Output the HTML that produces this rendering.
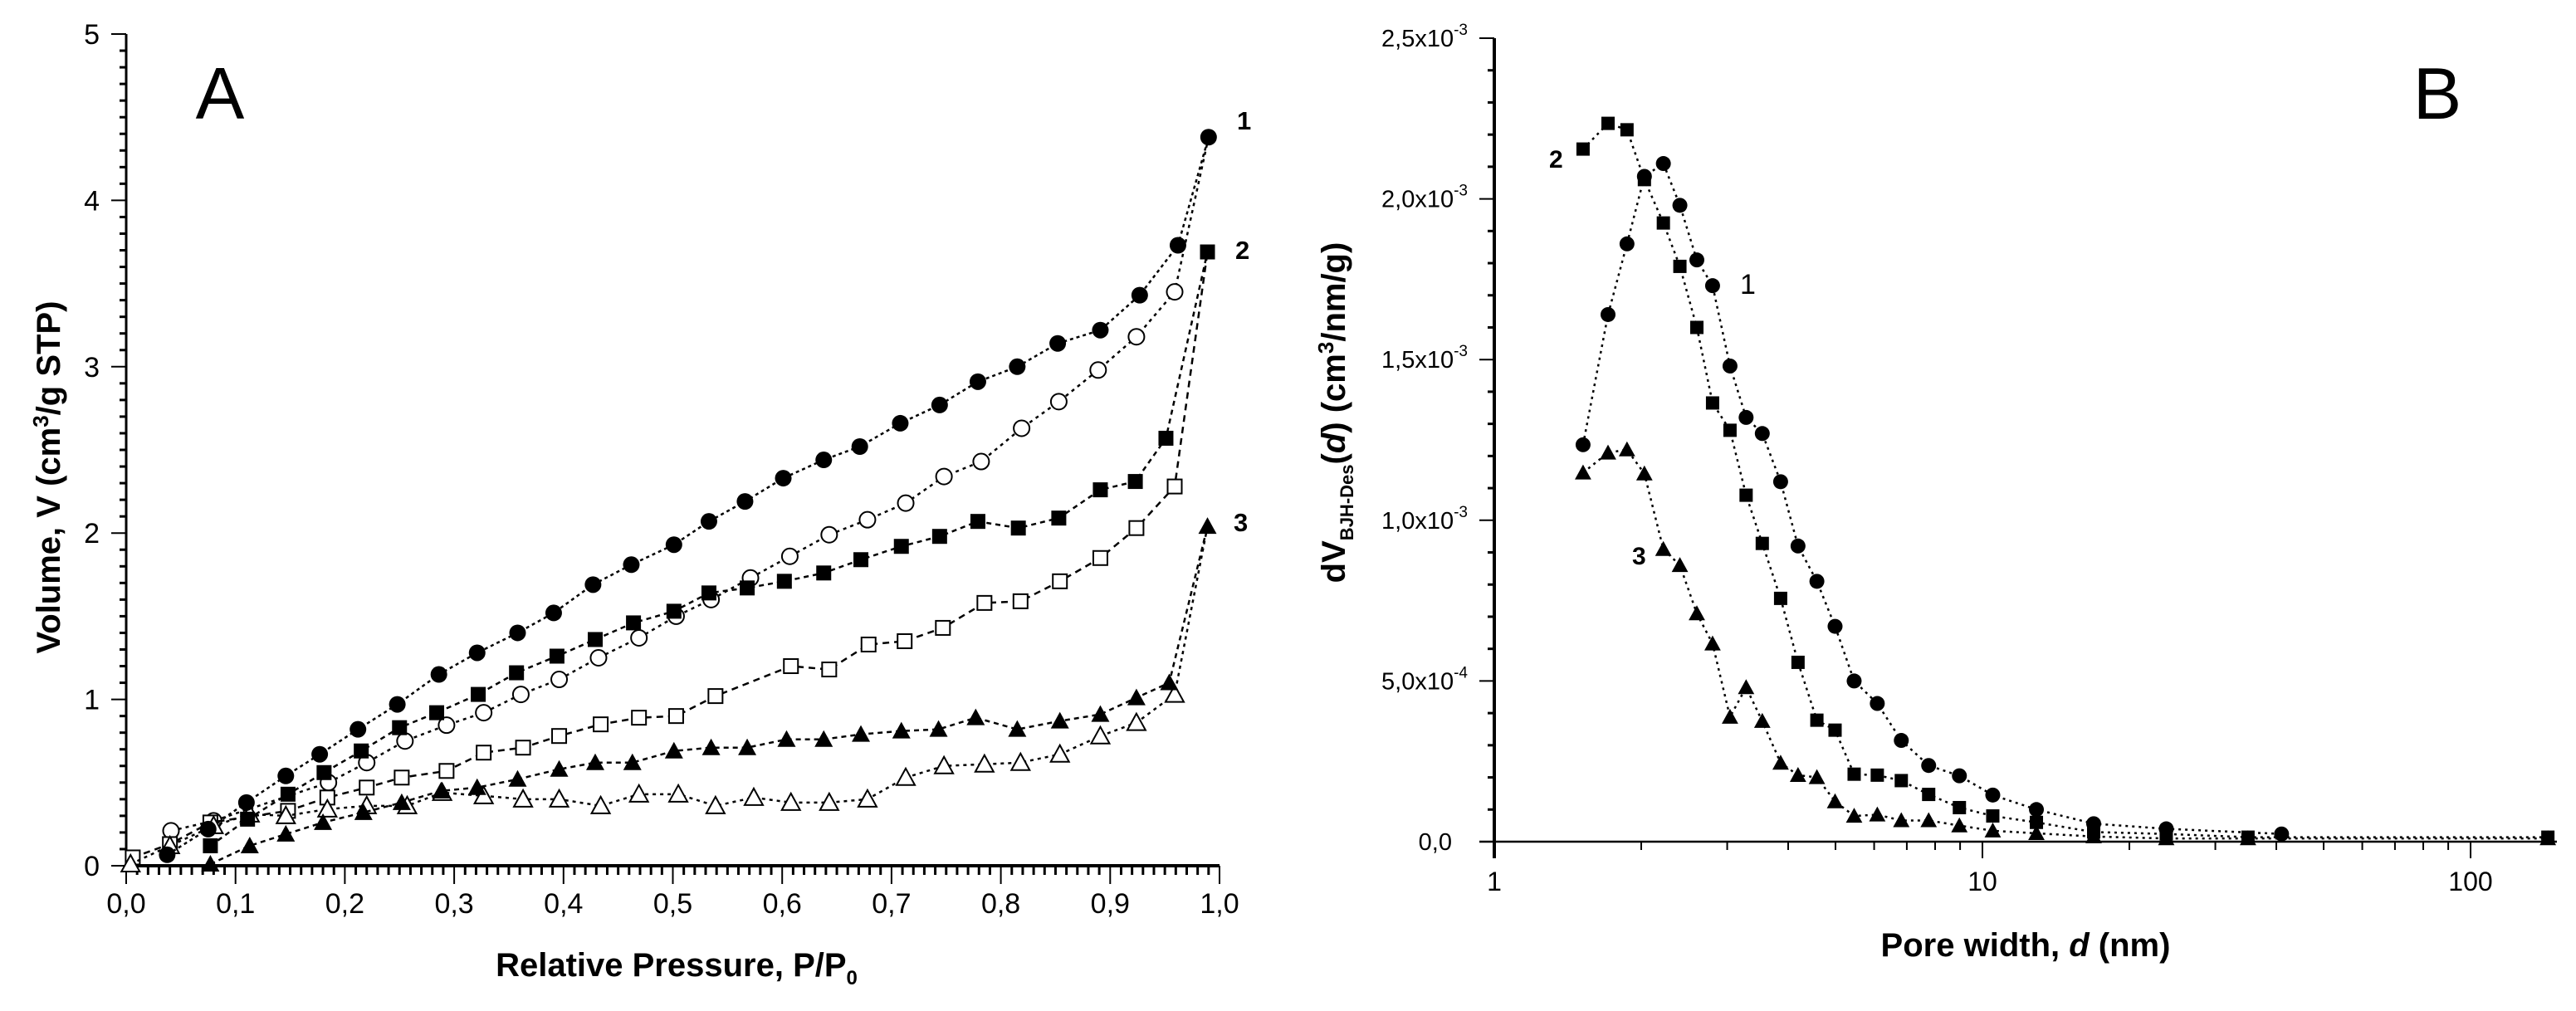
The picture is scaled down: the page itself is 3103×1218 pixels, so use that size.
<!DOCTYPE html>
<html><head><meta charset="utf-8"><title>Adsorption isotherms and BJH pore distribution</title>
<style>
html,body{margin:0;padding:0;background:#fff;}
svg{display:block;}
text{font-family:"Liberation Sans",Arial,sans-serif;fill:#000;}
</style></head>
<body>
<svg id="fig" xmlns="http://www.w3.org/2000/svg" width="3103" height="1218" viewBox="0 0 3103 1218"></svg>
<script>
// ---------- Panel A data (relative pressure vs volume) ----------
const xA1 = [0.0375,0.075,0.110,0.146,0.177,0.212,0.248,0.286,0.321,0.358,0.391,0.427,0.462,0.501,0.533,0.566,0.601,0.638,0.671,0.708,0.744,0.779,0.815,0.852,0.891,0.927,0.962,0.990];
const yA1 = [0.066,0.22,0.38,0.54,0.67,0.82,0.97,1.15,1.28,1.40,1.52,1.69,1.81,1.93,2.07,2.19,2.33,2.44,2.52,2.66,2.77,2.91,3.00,3.14,3.22,3.43,3.73,4.38];
const xA1d = [0.041,0.08,0.185,0.22,0.255,0.293,0.327,0.361,0.396,0.432,0.469,0.503,0.535,0.571,0.607,0.643,0.678,0.713,0.748,0.782,0.819,0.853,0.889,0.924,0.959];
const yA1d = [0.21,0.27,0.50,0.62,0.75,0.845,0.92,1.03,1.12,1.25,1.37,1.50,1.60,1.73,1.86,1.99,2.08,2.18,2.34,2.43,2.63,2.79,2.98,3.18,3.45];
const xA2 = [0.077,0.111,0.148,0.181,0.215,0.25,0.284,0.322,0.357,0.394,0.429,0.464,0.501,0.533,0.568,0.602,0.638,0.672,0.709,0.744,0.779,0.816,0.853,0.891,0.923,0.951,0.989];
const yA2 = [0.12,0.28,0.43,0.56,0.69,0.83,0.92,1.03,1.16,1.26,1.36,1.46,1.53,1.64,1.67,1.71,1.76,1.84,1.92,1.98,2.07,2.03,2.09,2.26,2.31,2.57,3.69];
const xA2d = [0.006,0.04,0.077,0.148,0.184,0.22,0.252,0.293,0.327,0.363,0.396,0.434,0.469,0.503,0.539,0.608,0.643,0.679,0.712,0.747,0.785,0.818,0.854,0.891,0.924,0.959];
const yA2d = [0.05,0.13,0.26,0.33,0.41,0.47,0.53,0.57,0.68,0.71,0.78,0.85,0.89,0.90,1.02,1.20,1.18,1.33,1.35,1.43,1.58,1.59,1.71,1.85,2.03,2.28];
const xA3 = [0.077,0.113,0.146,0.18,0.217,0.252,0.288,0.321,0.358,0.396,0.429,0.463,0.501,0.535,0.568,0.604,0.638,0.672,0.709,0.743,0.777,0.815,0.854,0.891,0.924,0.954,0.989];
const yA3 = [0.01,0.12,0.19,0.26,0.32,0.38,0.45,0.47,0.52,0.58,0.62,0.62,0.69,0.71,0.71,0.76,0.76,0.79,0.81,0.82,0.89,0.82,0.87,0.91,1.01,1.10,2.04];
const xA3d = [0.004,0.04,0.08,0.113,0.146,0.184,0.22,0.257,0.289,0.327,0.363,0.396,0.434,0.469,0.505,0.539,0.574,0.608,0.643,0.678,0.713,0.748,0.785,0.818,0.854,0.891,0.924,0.959];
const yA3d = [0.01,0.12,0.24,0.31,0.30,0.34,0.36,0.36,0.44,0.42,0.40,0.40,0.36,0.43,0.43,0.36,0.41,0.38,0.38,0.40,0.53,0.60,0.61,0.62,0.67,0.78,0.86,1.03];
const xTicksA = ["0,0","0,1","0,2","0,3","0,4","0,5","0,6","0,7","0,8","0,9","1,0"];
const yTicksA = ["0","1","2","3","4","5"];

// ---------- Panel B data (pore width vs dV, units 1e-3) ----------
const dB1 = [1.52,1.71,1.87,2.03,2.22,2.40,2.60,2.80,3.04,3.28,3.54,3.86,4.19,4.58,4.99,5.46,6.09,6.82,7.76,8.97,10.5,12.9,16.9,23.8,41];
const vB1 = [1.235,1.64,1.86,2.07,2.11,1.98,1.81,1.73,1.48,1.32,1.27,1.12,0.92,0.81,0.67,0.50,0.43,0.315,0.237,0.205,0.145,0.10,0.056,0.04,0.024];
const dB2 = [1.52,1.71,1.87,2.03,2.22,2.40,2.60,2.80,3.04,3.28,3.54,3.86,4.19,4.58,4.99,5.46,6.09,6.82,7.76,8.97,10.5,12.9,16.9,23.8,35,144];
const vB2 = [2.155,2.235,2.215,2.06,1.925,1.79,1.60,1.365,1.28,1.078,0.928,0.757,0.558,0.378,0.347,0.21,0.207,0.19,0.147,0.106,0.08,0.06,0.03,0.024,0.014,0.014];
const dB3 = [1.52,1.71,1.87,2.03,2.22,2.40,2.60,2.80,3.04,3.28,3.54,3.86,4.19,4.58,4.99,5.46,6.09,6.82,7.76,8.97,10.5,12.9,16.9,23.8,35,144];
const vB3 = [1.148,1.21,1.22,1.145,0.91,0.86,0.71,0.616,0.388,0.48,0.375,0.245,0.207,0.20,0.125,0.08,0.084,0.066,0.066,0.05,0.034,0.026,0.016,0.01,0.01,0.01];
const yTicksB = ["0,0","5,0x10","1,0x10","1,5x10","2,0x10","2,5x10"];
const yExpB = ["","-4","-3","-3","-3","-3"];
const xTicksB = ["1","10","100"];

const NS = "http://www.w3.org/2000/svg";
const svg = document.getElementById('fig');
function mk(tag, attrs, parent){
  const e = document.createElementNS(NS, tag);
  for (const k in attrs) e.setAttribute(k, attrs[k]);
  (parent||svg).appendChild(e);
  return e;
}
// axis functions
const AX0=152, AX1=1469, AY0=1043, AY5=41;
const ax = v => AX0 + v*(AX1-AX0);
const ay = v => AY0 - v*(AY0-AY5)/5;
const BX1=1800, BDEC=588, BY0=1014, BYTOP=46;
const bx = d => BX1 + Math.log10(d)*BDEC;
const by = v => BY0 - v*(BY0-BYTOP)/2.5;

function marker(g, type, x, y, s){
  let e;
  const filled = type.indexOf('open')<0;
  const st = filled ? {fill:'#000'} : {fill:'#fff',stroke:'#000','stroke-width':2};
  if (type.indexOf('circle')>=0) e = mk('circle', Object.assign({cx:x,cy:y,r:s/2},st), g);
  else if (type.indexOf('square')>=0) e = mk('rect', Object.assign({x:x-s/2,y:y-s/2,width:s,height:s},st), g);
  else e = mk('polygon', Object.assign({points:`${x},${y-s*0.55} ${x-s*0.55},${y+s*0.45} ${x+s*0.55},${y+s*0.45}`},st), g);
  
  
}
function series(name, xs, ys, fx, fy, type, s, dash, extra){
  const g = mk('g', {});
  
  
  let pts = xs.map((v,i)=>fx(v)+','+fy(ys[i]));
  if (extra) pts.push(extra);
  const l = mk('polyline', {points:pts.join(' '), fill:'none', stroke:'#000', 'stroke-width':2.5, 'stroke-dasharray':dash}, g);
  
  
  xs.forEach((v,i)=>marker(g, type, fx(v), fy(ys[i]), s));
}
function text(str, x, y, size, opts){
  const t = mk('text', Object.assign({x:x, y:y, 'font-size':size}, opts||{}));
  t.textContent = str;
  return t;
}

// ================= Panel A =================
const gA = mk('g', {});


mk('line',{x1:AX0,y1:AY5,x2:AX0,y2:AY0+2,stroke:'#000','stroke-width':3},gA);
mk('line',{x1:AX0-2,y1:AY0,x2:AX1,y2:AY0,stroke:'#000','stroke-width':4},gA);
for (let i=0;i<=100;i++){
  const x = ax(i/100), maj = i%10===0;
  mk('line',{x1:x,y1:AY0,x2:x,y2:AY0+(maj?22:11),stroke:'#000','stroke-width':maj?2:3},gA);
}
xTicksA.forEach((s,i)=>{
  const t = text(s, ax(i/10), 1100, 34, {'text-anchor':'middle'});
  
  
});
for (let i=0;i<=50;i++){
  const y = ay(i/10), maj = i%10===0;
  mk('line',{x1:AX0,y1:y,x2:AX0-(maj?18:8),y2:y,stroke:'#000','stroke-width':maj?2:3},gA);
}
yTicksA.forEach((s,i)=>{
  const t = text(s, 120, ay(i)+12, 34, {'text-anchor':'end'});
  
  
});
const ytA = text('', 0, 0, 40, {'font-weight':'bold','text-anchor':'middle',transform:'translate(72,575) rotate(-90)'});


ytA.innerHTML = 'Volume, V (cm<tspan dy="-14" font-size="26">3</tspan><tspan dy="14">/g STP)</tspan>';
const xtA = text('', 815, 1176, 40, {'font-weight':'bold','text-anchor':'middle'});


xtA.innerHTML = 'Relative Pressure, P/P<tspan dy="10" font-size="24">0</tspan>';
const lA = text('A', 265, 143, 88, {'text-anchor':'middle'});



const endA1 = ax(xA1[xA1.length-1])+','+ay(yA1[yA1.length-1]);
const endA2 = ax(xA2[xA2.length-1])+','+ay(yA2[yA2.length-1]);
const endA3 = ax(xA3[xA3.length-1])+','+ay(yA3[yA3.length-1]);
series('series-1-desorption', xA1d, yA1d, ax, ay, 'open-circle', 19, '4,5', endA1);
series('series-2-desorption', xA2d, yA2d, ax, ay, 'open-square', 17, '8,6', endA2);
series('series-3-desorption', xA3d, yA3d, ax, ay, 'open-triangle', 20, '4,5', endA3);
series('series-1-adsorption', xA1, yA1, ax, ay, 'circle', 20, '4,4');
series('series-2-adsorption', xA2, yA2, ax, ay, 'square', 18, '6,5');
series('series-3-adsorption', xA3, yA3, ax, ay, 'triangle', 20, '6,5');
[['1',1490,156],['2',1488,312],['3',1486,640]].forEach(a=>{
  const t = text(a[0], a[1], a[2], 31, {'font-weight':'bold'});
  
  
});

// ================= Panel B =================
const gB = mk('g', {});


mk('line',{x1:BX1,y1:BYTOP,x2:BX1,y2:BY0+20,stroke:'#000','stroke-width':4},gB);
mk('line',{x1:BX1-18,y1:BY0,x2:3080,y2:BY0,stroke:'#000','stroke-width':2.5},gB);
[1,10,100].forEach(dec=>{
  for (let k=1;k<=9;k++){
    const d = dec*k; if (d>170) continue;
    const x = bx(d), maj = k===1;
    if (maj && dec===1) continue;
    mk('line',{x1:x,y1:BY0,x2:x,y2:BY0+(maj?20:10),stroke:'#000','stroke-width':2},gB);
  }
});
xTicksB.forEach((s,i)=>{
  const t = text(s, bx(Math.pow(10,i)), 1073, 32, {'text-anchor':'middle'});
  
  
});
for (let i=0;i<=25;i++){
  const y = by(i/10), maj = i%5===0;
  mk('line',{x1:BX1,y1:y,x2:BX1-(maj?18:8),y2:y,stroke:'#000','stroke-width':maj?2:3},gB);
}
yTicksB.forEach((s,i)=>{
  const t = text('', 1768, by(i*0.5)+10, 29, {'text-anchor':'end'});
  
  
  if (yExpB[i]) t.innerHTML = s+'<tspan dy="-14" font-size="19">'+yExpB[i]+'</tspan>';
  else { t.textContent = s; t.setAttribute('x', 1749); }
});
const ytB = text('', 0, 0, 40, {'font-weight':'bold','text-anchor':'middle',transform:'translate(1620,497) rotate(-90)'});


ytB.innerHTML = 'dV<tspan dy="10" font-size="22">BJH-Des</tspan><tspan dy="-10">(</tspan><tspan font-style="italic">d</tspan>) (cm<tspan dy="-14" font-size="26">3</tspan><tspan dy="14">/nm/g)</tspan>';
const xtB = text('', 2440, 1152, 40, {'font-weight':'bold','text-anchor':'middle'});


xtB.innerHTML = 'Pore width, <tspan font-style="italic">d</tspan> (nm)';
const lB = text('B', 2936, 143, 88, {'text-anchor':'middle'});



series('psd-series-1', dB1, vB1, bx, by, 'circle', 18, '3,5');
series('psd-series-2', dB2, vB2, bx, by, 'square', 16, '3,5');
series('psd-series-3', dB3, vB3, bx, by, 'triangle', 18, '3,5');
[['2',1866,202,'bold',30],['1',2096,354,'normal',34],['3',1966,680,'bold',30]].forEach(a=>{
  const t = text(a[0], a[1], a[2], a[4], {'font-weight':a[3]});
  
  
});
</script>
</body></html>
